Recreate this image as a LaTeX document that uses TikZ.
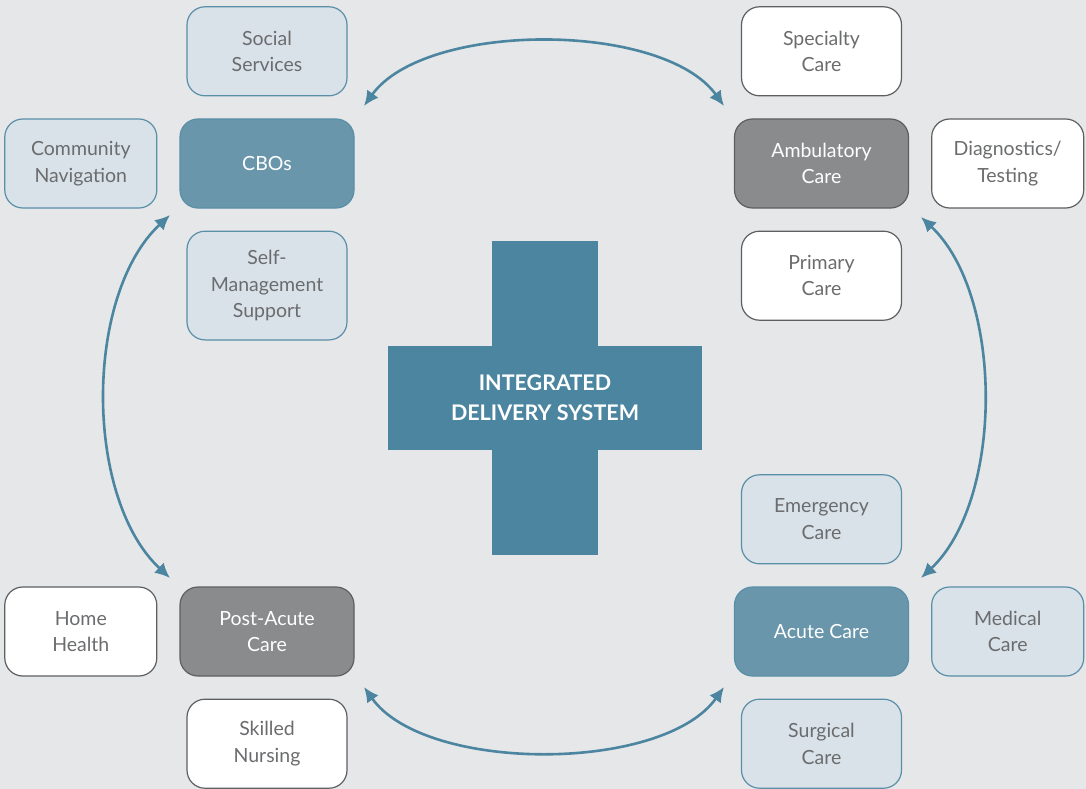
\documentclass[tikz,border=0pt]{standalone}
\usepackage{fontspec}
\setmainfont{Lato}
\usetikzlibrary{arrows.meta,positioning}

\definecolor{bgcol}{HTML}{E6E7E9}
\definecolor{teal}{HTML}{4B85A0}
\definecolor{tealline}{HTML}{5A8FA8}
\definecolor{hubblue}{HTML}{6A96AB}
\definecolor{paleblue}{HTML}{D9E2E8}
\definecolor{hubgrey}{HTML}{8A8B8D}
\definecolor{greyline}{HTML}{5E5F61}
\definecolor{txtgrey}{HTML}{6B6C6E}

\begin{document}
\begin{tikzpicture}[
  x=1pt, y=-1pt,
  node distance=22pt and 22pt,
  card/.style={
    rectangle,
    rounded corners=18pt,
    line width=1.2pt,
    align=center,
    minimum width=160pt,
    minimum height=89pt,
    inner ysep=19pt,
    text=txtgrey,
    font=\fontsize{19.5}{26.5}\selectfont
  },
  lightbox/.style={card, draw=tealline, fill=paleblue},
  whitebox/.style={card, draw=greyline, fill=white},
  bluehub/.style={card, draw=tealline, fill=hubblue, text=white, minimum width=174pt},
  greyhub/.style={card, draw=greyline, fill=hubgrey, text=white, minimum width=174pt},
  side/.style={minimum width=152pt},
  arr/.style={{Latex[length=15pt,width=14pt]}-{Latex[length=15pt,width=14pt]}, line width=2.6pt, draw=teal}
]
\useasboundingbox[fill=bgcol] (0,0) rectangle (1086,789);

% central cross
\fill[teal] (492,241) rectangle (598,555);
\fill[teal] (388,346) rectangle (702,450);
\node[text=white, align=center, font=\bfseries\fontsize{21.5}{30}\selectfont] (ids) at (545,398) {INTEGRATED\\DELIVERY SYSTEM};

% top left cluster
\node[bluehub] (cbo) at (267,163.5) {CBOs};
\node[lightbox, above=of cbo] (social) {Social\\Services};
\node[lightbox, side, left=of cbo] (navigation) {Community\\Navigation};
\node[lightbox, below=of cbo] (selfmgmt) {Self-\\Management\\Support};

% top right cluster
\node[greyhub] (ambulatory) at (821.5,163.5) {Ambulatory\\Care};
\node[whitebox, above=of ambulatory] (specialty) {Specialty\\Care};
\node[whitebox, side, right=of ambulatory] (diagnostics) {Diagnostics/\\Testing};
\node[whitebox, below=of ambulatory] (primary) {Primary\\Care};

% bottom right cluster
\node[bluehub] (acute) at (821.5,631.5) {Acute Care};
\node[lightbox, above=of acute] (emergency) {Emergency\\Care};
\node[lightbox, side, right=of acute] (medical) {Medical\\Care};
\node[lightbox, below=of acute] (surgical) {Surgical\\Care};

% bottom left cluster
\node[greyhub] (postacute) at (267,631.5) {Post-Acute\\Care};
\node[whitebox, side, left=of postacute] (homehealth) {Home\\Health};
\node[whitebox, below=of postacute] (nursing) {Skilled\\Nursing};

% arrow ends
\coordinate (tl) at (364,106);
\coordinate (tr) at (724,106);
\coordinate (lt) at (170,215);
\coordinate (lb) at (170,578);
\coordinate (rt) at (921,217);
\coordinate (rb) at (921,578);
\coordinate (bl) at (364,687);
\coordinate (br) at (724,687);

\draw[arr] (tl) .. controls (425,21) and (663,21) .. (tr);
\draw[arr] (lt) .. controls (84,295) and (84,498) .. (lb);
\draw[arr] (rt) .. controls (1004,295) and (1004,500) .. (rb);
\draw[arr] (bl) .. controls (425,773) and (663,773) .. (br);
\end{tikzpicture}
\end{document}
